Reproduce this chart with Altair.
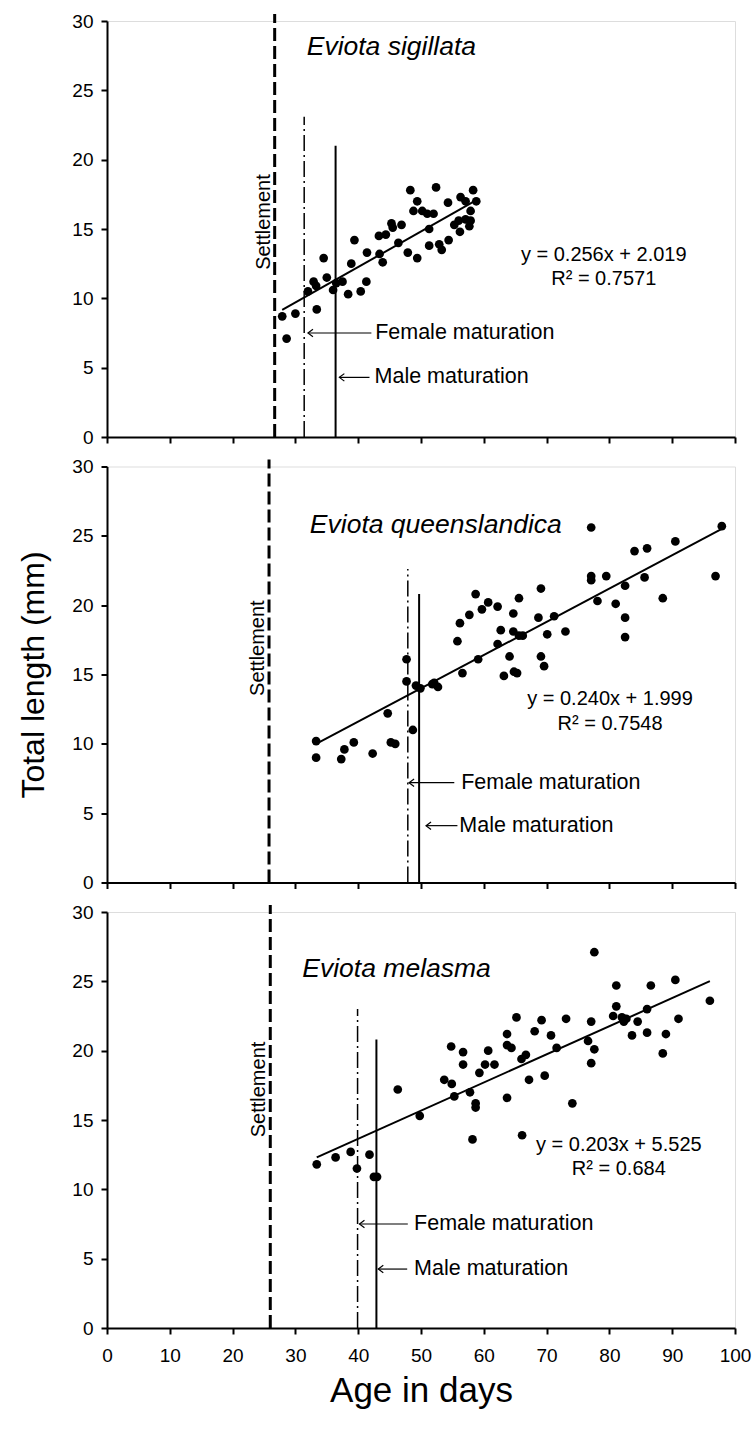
import altair as alt
import pandas as pd

FONT = "Liberation Sans"

# ---------------- data ----------------
species = ["Eviota sigillata", "Eviota queenslandica", "Eviota melasma"]
equations = ["y = 0.256x + 2.019", "y = 0.240x + 1.999", "y = 0.203x + 5.525"]
r2_labels = ["R\u00b2 = 0.7571", "R\u00b2 = 0.7548", "R\u00b2 = 0.684"]
slopes = [0.256, 0.240, 0.203]
intercepts = [2.019, 1.999, 5.525]
fit_start = [27.9, 33.3, 33.4]
fit_end = [58.6, 97.9, 96.0]

settlement_day = [26.7, 25.8, 26.0]
female_day = [31.4, 47.9, 39.9]
male_day = [36.4, 49.7, 42.9]
female_top = [23.1, 22.6, 23.0]
male_top = [21.0, 20.8, 20.8]

sig_age = [27.9, 28.6, 30.0, 32.0, 32.9, 33.4, 33.3, 34.5, 35.0, 36.0, 36.5, 37.5, 38.4,
           38.9, 39.4, 40.4, 41.3, 41.4, 43.3, 43.4, 43.9, 44.4, 45.3, 45.5, 46.9, 46.4,
           47.9, 48.3, 49.4, 49.4, 48.8, 50.2, 51.0, 52.0, 51.3, 51.3, 52.4, 52.9, 53.3,
           54.4, 54.3, 55.3, 56.0, 56.2, 56.3, 57.1, 57.7, 57.1, 57.9, 58.3, 58.8, 57.9]
sig_len = [8.7, 7.1, 8.9, 10.5, 11.2, 9.2, 10.9, 12.9, 11.5, 10.6, 11.1, 11.2, 10.3,
           12.5, 14.2, 10.5, 11.2, 13.3, 14.5, 13.2, 12.6, 14.6, 15.4, 15.1, 15.3, 14.0,
           13.3, 17.8, 12.9, 17.0, 16.3, 16.3, 16.1, 16.1, 15.0, 13.8, 18.0, 13.9, 13.5,
           14.2, 16.9, 15.3, 15.6, 14.8, 17.3, 15.7, 15.2, 17.0, 16.3, 17.8, 17.0, 15.6]

que_age = [33.3, 33.3, 37.3, 37.8, 39.3, 42.3, 44.7, 45.2, 45.9, 47.7, 47.7, 48.7, 49.2,
           49.9, 52.1, 52.7, 51.8, 55.8, 56.2, 56.6, 57.7, 58.7, 59.1, 59.7, 60.7, 62.2,
           62.2, 62.7, 63.2, 64.1, 64.7, 64.7, 64.8, 65.3, 65.6, 65.6, 66.2, 68.7, 69.1,
           69.1, 69.6, 70.1, 71.2, 73.0, 77.1, 77.1, 77.1, 78.1, 79.5, 81.0, 82.5, 82.5,
           82.5, 84.0, 85.6, 86.0, 88.5, 90.5, 96.9, 97.9]
que_len = [10.2, 9.0, 8.9, 9.6, 10.1, 9.3, 12.2, 10.1, 10.0, 16.1, 14.5, 11.0, 14.2,
           14.0, 14.4, 14.1, 14.3, 17.4, 18.7, 15.1, 19.3, 20.8, 16.1, 19.7, 20.2, 19.9,
           17.2, 18.2, 14.9, 16.3, 19.4, 18.1, 15.2, 15.1, 20.5, 17.8, 17.8, 19.1, 21.2,
           16.3, 15.6, 17.9, 19.2, 18.1, 25.6, 22.1, 21.8, 20.3, 22.1, 20.1, 21.4, 19.1,
           17.7, 23.9, 22.0, 24.1, 20.5, 24.6, 22.1, 25.7]

mel_age = [33.4, 36.4, 38.8, 39.8, 41.8, 42.5, 43.0, 46.3, 49.8, 53.7, 54.8, 54.9, 55.3,
           56.7, 56.7, 57.8, 58.2, 58.7, 58.7, 59.3, 60.2, 60.7, 61.7, 63.7, 63.7, 64.4,
           63.7, 65.2, 66.1, 66.0, 66.7, 67.2, 68.1, 69.2, 69.7, 70.7, 71.6, 73.1, 74.1,
           76.6, 77.1, 77.6, 77.1, 81.1, 81.1, 80.6, 82.0, 82.3, 82.7, 83.6, 84.5, 86.0,
           86.0, 86.6, 88.5, 89.0, 90.5, 91.0, 96.0, 77.6]
mel_len = [11.8, 12.3, 12.7, 11.5, 12.5, 10.9, 10.9, 17.2, 15.3, 17.9, 20.3, 17.6, 16.7,
           19.9, 19.0, 17.0, 13.6, 16.2, 15.9, 18.4, 19.0, 20.0, 19.0, 21.2, 20.4, 20.2,
           16.6, 22.4, 13.9, 19.4, 19.7, 17.9, 21.4, 22.2, 18.2, 21.1, 20.2, 22.3, 16.2,
           20.7, 22.1, 20.1, 19.1, 24.7, 23.2, 22.5, 22.4, 22.1, 22.3, 21.1, 22.1, 23.0,
           21.3, 24.7, 19.8, 21.2, 25.1, 22.3, 23.6, 27.1]

ages = [sig_age, que_age, mel_age]
lengths = [sig_len, que_len, mel_len]

# ---------------- annotation placement (data coordinates) ----------------
title_pos = [(31.8, 28.1), (32.3, 25.8), (31.1, 25.9)]
eq_pos = [(79.1, 13.15, 11.4), (80.1, 13.2, 11.4), (81.5, 13.2, 11.5)]
settle_text_pos = [(26.0, 15.5), (25.0, 16.9), (25.2, 17.2)]
female_arrow = [(32.0, 42.1, 7.5, 42.7), (48.1, 55.3, 7.2, 56.4), (40.2, 47.9, 7.5, 48.9)]
male_arrow = [(37.0, 41.8, 4.3, 42.6), (50.8, 55.8, 4.1, 56.1), (43.2, 47.8, 4.25, 48.9)]

ARROW_SHAPE = "M1,-0.75 L0,0 L1,0.75"
PLOT_W = 628
PLOT_H = 416


def panel(i):
    last = i == 2
    x_axis = alt.Axis(
        values=list(range(0, 101, 10)), labels=last, title="Age in days" if last else None,
        grid=False, domainColor="black", domainWidth=2, tickColor="black", tickWidth=2,
        tickSize=6, labelFontSize=19, labelFont=FONT, labelColor="black", labelPadding=12,
        labelFlush=False,
        titleFontSize=35, titleFont=FONT, titleFontWeight="normal", titleColor="black",
        titlePadding=8,
    )
    y_axis = alt.Axis(
        values=list(range(0, 31, 5)), title="Total length (mm)", grid=False,
        domainColor="black", domainWidth=2, tickColor="black", tickWidth=2, tickSize=6,
        labelFontSize=19, labelFont=FONT, labelColor="black", labelPadding=8,
        labelFlush=False,
        titleFontSize=32, titleFont=FONT, titleFontWeight="normal",
        titleColor="black" if i == 1 else "transparent", titlePadding=21,
    )
    xs = alt.Scale(domain=[0, 100], nice=False, zero=False)
    ys = alt.Scale(domain=[0, 30], nice=False)
    X = lambda f="x": alt.X(f"{f}:Q", scale=xs, axis=x_axis)
    Y = lambda f="y": alt.Y(f"{f}:Q", scale=ys, axis=y_axis)

    pts = pd.DataFrame({"x": ages[i], "y": lengths[i]})
    fit = pd.DataFrame({"x": [fit_start[i], fit_end[i]],
                        "y": [slopes[i] * fit_start[i] + intercepts[i],
                              slopes[i] * fit_end[i] + intercepts[i]]})

    layers = []
    layers.append(alt.Chart(pts).mark_circle(size=76, color="black", opacity=1)
                  .encode(x=X(), y=Y()))
    layers.append(alt.Chart(fit).mark_line(color="black", strokeWidth=2)
                  .encode(x=X(), y=Y()))

    settle = pd.DataFrame({"x": [settlement_day[i]], "y": [0], "y2": [30.5]})
    layers.append(alt.Chart(settle).mark_rule(color="black", strokeWidth=3, strokeDash=[13, 5])
                  .encode(x=X(), y=Y(), y2="y2:Q"))
    fem = pd.DataFrame({"x": [female_day[i]], "y": [0], "y2": [female_top[i]]})
    layers.append(alt.Chart(fem).mark_rule(color="black", strokeWidth=1.5,
                                           strokeDash=[16, 4, 2, 4])
                  .encode(x=X(), y=Y(), y2="y2:Q"))
    mal = pd.DataFrame({"x": [male_day[i]], "y": [0], "y2": [male_top[i]]})
    layers.append(alt.Chart(mal).mark_rule(color="black", strokeWidth=2)
                  .encode(x=X(), y=Y(), y2="y2:Q"))

    arr = pd.DataFrame({
        "x": [female_arrow[i][0], male_arrow[i][0]],
        "x2": [female_arrow[i][1], male_arrow[i][1]],
        "y": [female_arrow[i][2], male_arrow[i][2]],
        "tx": [female_arrow[i][3], male_arrow[i][3]],
        "label": ["Female maturation", "Male maturation"],
    })
    layers.append(alt.Chart(arr).mark_rule(color="black", strokeWidth=1.2)
                  .encode(x=X(), x2="x2:Q", y=Y()))
    layers.append(alt.Chart(arr).mark_point(shape=ARROW_SHAPE, size=100, filled=False,
                                            color="black", strokeWidth=1.2, opacity=1)
                  .encode(x=X(), y=Y()))
    layers.append(alt.Chart(arr).mark_text(align="left", baseline="middle", font=FONT,
                                           fontSize=21.5, color="black")
                  .encode(x=X("tx"), y=Y(), text="label:N"))

    ttl = pd.DataFrame({"x": [title_pos[i][0]], "y": [title_pos[i][1]], "t": [species[i]]})
    layers.append(alt.Chart(ttl).mark_text(align="left", baseline="middle", font=FONT,
                                           fontSize=26.5, fontStyle="italic", color="black")
                  .encode(x=X(), y=Y(), text="t:N"))

    eq = pd.DataFrame({"x": [eq_pos[i][0], eq_pos[i][0]],
                       "y": [eq_pos[i][1], eq_pos[i][2]],
                       "t": [equations[i], r2_labels[i]]})
    layers.append(alt.Chart(eq).mark_text(align="center", baseline="middle", font=FONT,
                                          fontSize=20, color="black")
                  .encode(x=X(), y=Y(), text="t:N"))

    st = pd.DataFrame({"x": [settle_text_pos[i][0]], "y": [settle_text_pos[i][1]],
                       "t": ["Settlement"]})
    layers.append(alt.Chart(st).mark_text(align="center", baseline="alphabetic", font=FONT,
                                          fontSize=20, angle=270, color="black")
                  .encode(x=X(), y=Y(), text="t:N"))

    return alt.layer(*layers).properties(width=PLOT_W, height=PLOT_H)


chart = (
    alt.vconcat(panel(0), panel(1), panel(2), spacing=8.5)
    .properties(padding={"left": 17, "top": 11, "right": 0, "bottom": 0},
                background="white")
    .configure_view(stroke=None)
    .configure(font=FONT)
)

chart.save("out.html", embed_options={"renderer": "svg", "actions": False})
